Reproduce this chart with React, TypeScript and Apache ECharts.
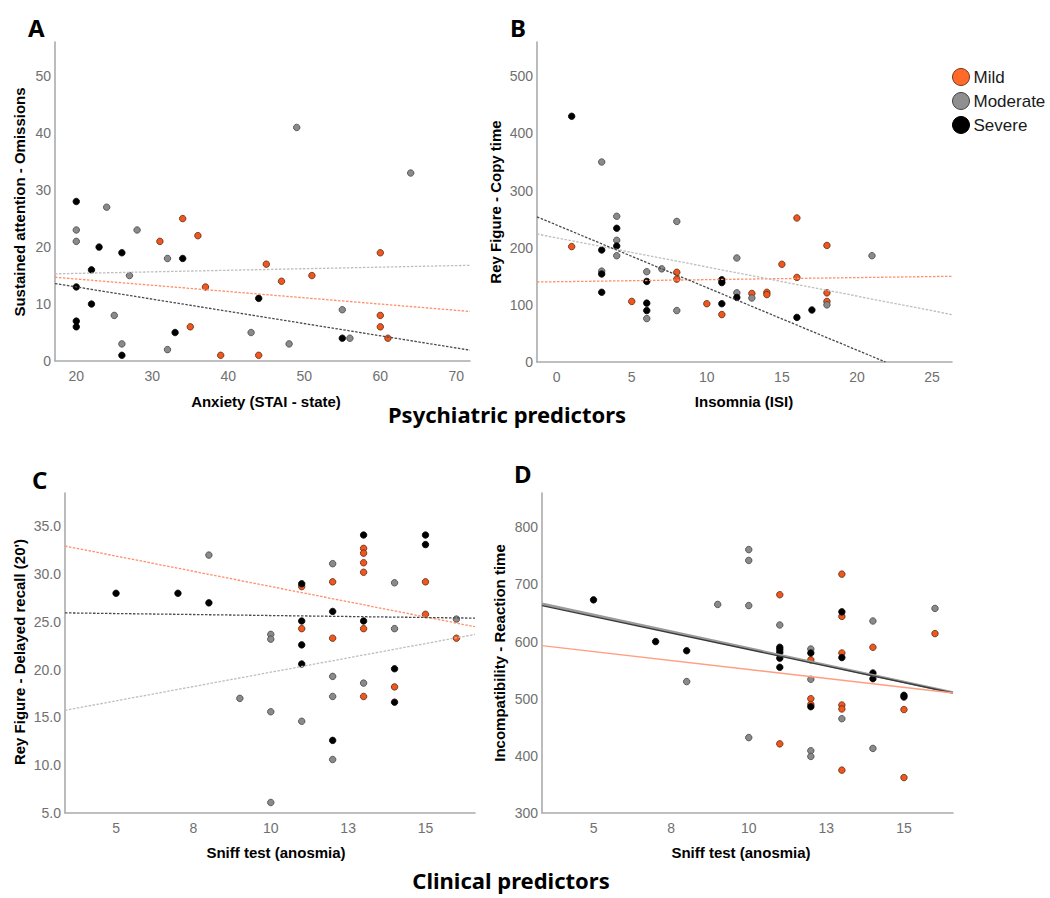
import React, { useEffect, useRef } from "react";
import * as echarts from "echarts";

type Pt = [number, number];

const severityNames = ["Mild", "Moderate", "Severe"];

// ---------- Panel A: Anxiety (STAI - state) vs Sustained attention - Omissions
const aXTicks = [20, 30, 40, 50, 60, 70];
const aYTicks = [0, 10, 20, 30, 40, 50];
const aMild: Pt[] = [[31, 21], [34, 25], [35, 6], [36, 22], [37, 13], [39, 1], [44, 1], [45, 17], [47, 14], [51, 15], [60, 19], [60, 8], [60, 6], [61, 4]];
const aModerate: Pt[] = [[20, 23], [20, 21], [24, 27], [25, 8], [26, 3], [27, 15], [28, 23], [32, 18], [32, 2], [43, 5], [48, 3], [49, 41], [55, 9], [56, 4], [64, 33]];
const aSevere: Pt[] = [[20, 28], [20, 13], [20, 7], [20, 6], [22, 16], [22, 10], [23, 20], [26, 19], [26, 1], [33, 5], [34, 18], [44, 11], [55, 4]];
const aFitMild: Pt[] = [[17.2, 14.7], [71.8, 8.7]];
const aFitModerate: Pt[] = [[17.2, 15.3], [71.8, 16.8]];
const aFitSevere: Pt[] = [[17.2, 13.6], [71.8, 1.9]];

// ---------- Panel B: Insomnia (ISI) vs Rey Figure - Copy time
const bXTicks = [0, 5, 10, 15, 20, 25];
const bYTicks = [0, 100, 200, 300, 400, 500];
const bMild: Pt[] = [[1, 202], [5, 106], [8, 157], [8, 145], [10, 102], [11, 83], [13, 120], [14, 122], [14, 118], [15, 171], [16, 252], [16, 148], [18, 204], [18, 121], [18, 106]];
const bModerate: Pt[] = [[3, 350], [3, 159], [4, 255], [4, 213], [4, 186], [6, 158], [6, 76], [7, 163], [8, 246], [8, 90], [12, 182], [12, 121], [13, 112], [18, 100], [21, 186]];
const bSevere: Pt[] = [[1, 430], [3, 196], [3, 154], [3, 122], [4, 234], [4, 203], [6, 141], [6, 103], [6, 90], [11, 144], [11, 139], [11, 102], [12, 113], [16, 78], [17, 91]];
const bFitMild: Pt[] = [[-1.31, 140], [26.33, 150]];
const bFitModerate: Pt[] = [[-1.31, 224], [26.33, 83]];
const bFitSevere: Pt[] = [[-1.31, 254], [21.9, 0]];

// ---------- Panel C: Sniff test (anosmia) vs Rey Figure - Delayed recall (20')
const cXTicks = [5, 7.5, 10, 12.5, 15];
const cYTicks = [5, 10, 15, 20, 25, 30, 35];
const cMild: Pt[] = [[11, 28.7], [11, 24.3], [12, 29.2], [12, 23.3], [13, 32.7], [13, 32.2], [13, 31.2], [13, 30.2], [13, 24.3], [13, 17.2], [14, 18.2], [15, 29.2], [15, 25.8], [16, 23.3]];
const cModerate: Pt[] = [[8, 32], [9, 17], [10, 23.7], [10, 23.2], [10, 15.6], [10, 6.1], [11, 14.6], [12, 31.1], [12, 19.3], [12, 17.2], [12, 10.6], [13, 18.6], [14, 29.1], [14, 24.3], [16, 25.3]];
const cSevere: Pt[] = [[5, 28], [7, 28], [8, 27], [11, 29], [11, 25.1], [11, 22.6], [11, 20.6], [12, 26.1], [12, 12.6], [13, 34.1], [13, 25.1], [14, 20.1], [14, 16.6], [15, 34.1], [15, 33.1]];
const cFitMild: Pt[] = [[3.35, 32.95], [16.6, 24.5]];
const cFitModerate: Pt[] = [[3.35, 15.75], [16.6, 23.7]];
const cFitSevere: Pt[] = [[3.35, 25.95], [16.6, 25.4]];

// ---------- Panel D: Sniff test (anosmia) vs Incompatibility - Reaction time
const dXTicks = [5, 7.5, 10, 12.5, 15];
const dYTicks = [300, 400, 500, 600, 700, 800];
const dMild: Pt[] = [[11, 682], [11, 421], [12, 568], [12, 500], [12, 490], [13, 718], [13, 644], [13, 580], [13, 489], [13, 482], [13, 375], [14, 590], [15, 481], [15, 362], [16, 614]];
const dModerate: Pt[] = [[8, 530], [9, 665], [10, 761], [10, 742], [10, 663], [10, 432], [11, 629], [12, 587], [12, 534], [12, 409], [12, 399], [13, 465], [14, 636], [14, 413], [16, 658]];
const dSevere: Pt[] = [[5, 673], [7, 600], [8, 584], [11, 590], [11, 586], [11, 581], [11, 571], [11, 555], [12, 580], [12, 486], [13, 652], [13, 572], [14, 545], [14, 535], [15, 506], [15, 503]];
const dFitMild: Pt[] = [[3.34, 593], [16.58, 510]];
const dFitModerate: Pt[] = [[3.34, 666], [16.58, 511]];
const dFitSevere: Pt[] = [[3.34, 663], [16.58, 510]];

const DOT_COLORS = ["#F0561E", "#8A8A8A", "#000000"];
const DOT_BORDERS = ["#5a2a10", "#444444", "#000000"];
const DASH_COLORS = ["#FF8E6A", "#BEBEBE", "#4A4A4A"];
const SOLID_COLORS = ["#FF9E80", "#9A9A9A", "#3A3A3A"];

const LABEL_FONT = "'Liberation Sans', Arial, sans-serif";
const TITLE_FONT = "'Noto Sans', 'Open Sans', sans-serif";

export default function App() {
  const ref = useRef<HTMLDivElement>(null);

  useEffect(() => {
    if (!ref.current) return;
    const chart = echarts.init(ref.current, undefined, { renderer: "svg" });

    const grids = [
      { left: 55, top: 42, width: 415, height: 319 },
      { left: 537, top: 42, width: 415, height: 320 },
      { left: 65, top: 493, width: 410, height: 320 },
      { left: 542, top: 493, width: 411, height: 320 },
    ];

    const axisCommon = {
      type: "value" as const,
      splitLine: { show: false },
      axisTick: { show: false },
      axisLine: { show: true, onZero: false, lineStyle: { color: "#ABABAB", width: 1.6 } },
    };
    const lbl = {
      color: "#707070",
      fontSize: 14,
      fontFamily: LABEL_FONT,
    };

    const xRanges = [
      [17.2, 71.8],
      [-1.31, 26.33],
      [3.35, 16.6],
      [3.34, 16.58],
    ];
    const yRanges = [
      [0, 56],
      [0, 560],
      [5, 38.5],
      [300, 860],
    ];
    const xTicks = [aXTicks, bXTicks, cXTicks, dXTicks];
    const yTicks = [aYTicks, bYTicks, cYTicks, dYTicks];

    const xAxis = xRanges.map((r, i) => ({
      ...axisCommon,
      gridIndex: i,
      min: r[0],
      max: r[1],
      axisLabel: {
        ...lbl,
        margin: 8,
        customValues: xTicks[i],
        formatter: (v: number) => String(Math.round(v)),
      },
    }));
    const yAxis = yRanges.map((r, i) => ({
      ...axisCommon,
      gridIndex: i,
      min: r[0],
      max: r[1],
      axisLabel: {
        ...lbl,
        margin: 4,
        customValues: yTicks[i],
        formatter: (v: number) => (i === 2 ? v.toFixed(1) : String(v)),
      },
    }));

    const panels = [
      { dots: [aMild, aModerate, aSevere], fits: [aFitMild, aFitModerate, aFitSevere], solid: false },
      { dots: [bMild, bModerate, bSevere], fits: [bFitMild, bFitModerate, bFitSevere], solid: false },
      { dots: [cMild, cModerate, cSevere], fits: [cFitMild, cFitModerate, cFitSevere], solid: false },
      { dots: [dMild, dModerate, dSevere], fits: [dFitModerate, dFitSevere, dFitMild], solid: true },
    ];

    const series: any[] = [];
    panels.forEach((p, i) => {
      p.dots.forEach((d, k) => {
        series.push({
          type: "scatter",
          name: severityNames[k],
          xAxisIndex: i,
          yAxisIndex: i,
          data: d,
          symbol: "circle",
          symbolSize: 6.5,
          itemStyle: { color: DOT_COLORS[k], borderColor: DOT_BORDERS[k], borderWidth: 0.8, opacity: 1 },
          z: 3,
        });
      });
      if (p.solid) {
        const order = [1, 2, 0];
        p.fits.forEach((f, j) => {
          const k = order[j];
          series.push({
            type: "line",
            name: "fit-" + severityNames[k] + "-" + i,
            xAxisIndex: i,
            yAxisIndex: i,
            data: f,
            symbol: "none",
            silent: true,
            lineStyle: { color: SOLID_COLORS[k], width: k === 1 ? 2.6 : 1.4, type: "solid" },
            z: 4,
          });
        });
      } else {
        p.fits.forEach((f, k) => {
          series.push({
            type: "line",
            name: "fit-" + severityNames[k] + "-" + i,
            xAxisIndex: i,
            yAxisIndex: i,
            data: f,
            symbol: "none",
            silent: true,
            lineStyle: { color: DASH_COLORS[k], width: 1.3, type: [2.5, 1.5] },
            z: 4,
          });
        });
      }
    });

    const axisTitle = (text: string, x: number, y: number, vertical: boolean) => ({
      type: "text",
      x,
      y,
      rotation: vertical ? Math.PI / 2 : 0,
      style: {
        text,
        fill: "#000",
        font: `bold 15px ${LABEL_FONT}`,
        align: "center",
        verticalAlign: "middle",
      },
    });
    const letter = (text: string, x: number, y: number) => ({
      type: "text",
      x,
      y,
      style: { text, fill: "#000", font: `bold 24px ${TITLE_FONT}`, align: "left", verticalAlign: "middle" },
    });
    const section = (text: string, x: number, y: number) => ({
      type: "text",
      x,
      y,
      style: { text, fill: "#000", font: `bold 22px ${TITLE_FONT}`, align: "center", verticalAlign: "middle" },
    });

    chart.setOption({
      animation: false,
      backgroundColor: "#ffffff",
      grid: grids,
      xAxis,
      yAxis,
      series,
      legend: {
        orient: "vertical",
        left: 952,
        top: 68,
        padding: 0,
        itemWidth: 17,
        itemHeight: 17,
        itemGap: 6,
        icon: "circle",
        selectedMode: false,
        textStyle: { fontSize: 17, color: "#1a1a1a", fontFamily: LABEL_FONT, padding: [0, 0, 0, -1] },
        data: [
          { name: "Mild", itemStyle: { color: "#FF6A2B", borderColor: "#7a3a1a", borderWidth: 1 } },
          { name: "Moderate", itemStyle: { color: "#8F8F8F", borderColor: "#444", borderWidth: 1 } },
          { name: "Severe", itemStyle: { color: "#000", borderColor: "#000", borderWidth: 1 } },
        ],
      },
      graphic: [
        letter("A", 28, 27),
        letter("B", 510, 27),
        letter("C", 32, 479),
        letter("D", 514, 473),
        axisTitle("Sustained attention - Omissions", 19, 202, true),
        axisTitle("Rey Figure - Copy time", 495, 202, true),
        axisTitle("Rey Figure - Delayed recall (20')", 19, 652, true),
        axisTitle("Incompatibility - Reaction time", 499, 653, true),
        axisTitle("Anxiety (STAI - state)", 266, 401, false),
        axisTitle("Insomnia (ISI)", 744, 401, false),
        axisTitle("Sniff test (anosmia)", 276, 852, false),
        axisTitle("Sniff test (anosmia)", 741, 852, false),
        section("Psychiatric predictors", 507, 414),
        section("Clinical predictors", 511, 880),
      ],
    });

    return () => {
      chart.dispose();
    };
  }, []);

  return (
    <div
      ref={ref}
      style={{ position: "absolute", left: 0, top: 0, width: 1050, height: 898, background: "#fff" }}
    />
  );
}
